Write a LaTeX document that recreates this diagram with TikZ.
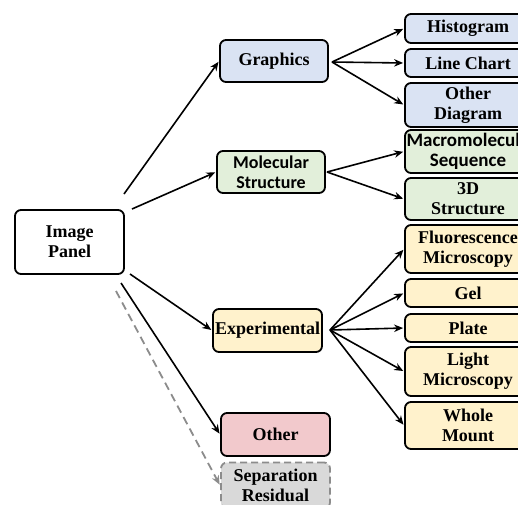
\documentclass[tikz,border=0pt]{standalone}
\usepackage{fontspec}
\setmainfont{Liberation Serif}
\newfontfamily\sansb{Carlito}
\usetikzlibrary{arrows.meta,calc}
\definecolor{cblue}{HTML}{DAE3F3}
\definecolor{cgreen}{HTML}{E2EFDA}
\definecolor{cyellow}{HTML}{FFF2CC}
\definecolor{cpink}{HTML}{F2C9CC}
\definecolor{cgray}{HTML}{D9D9D9}
\definecolor{dgray}{HTML}{8C8C8C}
\tikzset{
  box/.style={draw=black, line width=1.8pt, rounded corners=6pt, inner sep=0pt,
    align=center, font=\fontsize{18}{20}\selectfont\bfseries},
  sbox/.style={box, font=\sansb\fontsize{19}{20}\selectfont\bfseries},
  bluebox/.style={box, fill=cblue},
  greenbox/.style={sbox, fill=cgreen},
  yellowbox/.style={box, fill=cyellow},
  arr/.style={line width=1.6pt, -{Stealth[length=9pt,width=7.5pt]}, shorten >=1pt},
  darr/.style={line width=1.8pt, dgray, dash pattern=on 8pt off 5pt, -{Stealth[length=9pt,width=7.5pt]}, shorten >=1pt}
}
\begin{document}
\begin{tikzpicture}[x=1pt,y=-1pt]
\useasboundingbox (0,0) rectangle (518,504);
\clip (0,0) rectangle (518,504);
\fill[white] (0,0) rectangle (518,504);
% level 0
\node[box, fill=white, minimum width=109pt, minimum height=64pt] (ip) at (69.5,242) {Image\\Panel};
% level 1
\node[bluebox, minimum width=108pt, minimum height=42pt] (g) at (274,61) {Graphics};
\node[greenbox, minimum width=108pt, minimum height=42pt, font=\sansb\fontsize{18}{20}\selectfont\bfseries] (m) at (271,172) {Molecular\\Structure};
\node[yellowbox, minimum width=109pt, minimum height=43pt] (e) at (267.5,330.5) {Experimental};
\node[box, fill=cpink, minimum width=109pt, minimum height=43pt] (o) at (275.5,434.5) {Other};
\node[box, fill=cgray, draw=dgray, dash pattern=on 7pt off 4pt, minimum width=109pt, minimum height=46pt] (sr) at (275.5,485.5) {Separation\\Residual};
% level 2
\node[bluebox, minimum width=126pt, minimum height=29pt] (h) at (468,28.5) {Histogram};
\node[bluebox, minimum width=126pt, minimum height=28pt] (lc) at (468,63) {Line Chart};
\node[bluebox, minimum width=126pt, minimum height=44pt] (od) at (468,105) {Other\\Diagram};
\node[greenbox, minimum width=126pt, minimum height=43pt] (ms) at (468,151.5) {Macromolecule\\Sequence};
\node[box, fill=cgreen, minimum width=126pt, minimum height=42pt] (td) at (468,199) {3D\\Structure};
\node[yellowbox, minimum width=126pt, minimum height=48pt] (fm) at (468,249) {Fluorescence\\Microscopy};
\node[yellowbox, minimum width=126pt, minimum height=28pt] (gel) at (468,293) {Gel};
\node[yellowbox, minimum width=126pt, minimum height=28pt] (pl) at (468,328) {Plate};
\node[yellowbox, minimum width=126pt, minimum height=49pt] (lm) at (468,371.5) {Light\\Microscopy};
\node[yellowbox, minimum width=126pt, minimum height=47pt] (wm) at (468,425.5) {Whole\\Mount};
% start points
\coordinate (s1) at (124,194);
\coordinate (s2) at (132,209);
\coordinate (s3) at (130,274);
\coordinate (s4) at (121,283);
\coordinate (s5) at (116,291);
\coordinate (gs) at (332,62);
\coordinate (msrt) at (327,172);
\coordinate (es) at (330,330);
% arrows from Image Panel
\draw[arr] (s1) -- (g.west);
\draw[arr] (s2) -- (m.west);
\draw[arr] (s3) -- (e.west);
\draw[arr] (s4) -- (o.west);
\draw[darr] (s5) -- (sr.west);
% Graphics fan
\draw[arr] (gs) -- (h.west);
\draw[arr] (gs) -- (lc.west);
\draw[arr] (gs) -- (od.west);
% Molecular fan
\draw[arr] (msrt) -- (ms.west);
\draw[arr] (msrt) -- (td.west);
% Experimental fan
\draw[arr] (es) -- (fm.west);
\draw[arr] (es) -- (gel.west);
\draw[arr] (es) -- (pl.west);
\draw[arr] (es) -- (lm.west);
\draw[arr] (es) -- (wm.west);
\end{tikzpicture}
\end{document}
